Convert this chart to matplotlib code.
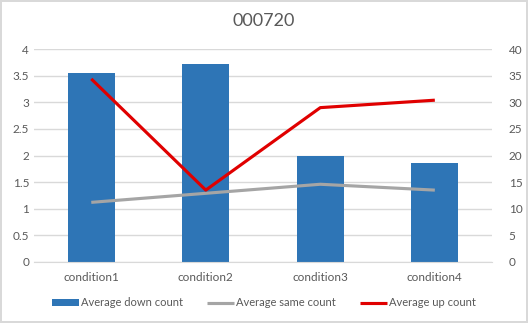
import matplotlib.pyplot as plt
import numpy as np

plt.rcParams['font.family'] = ['Lato', 'DejaVu Sans']

# data
categories = ['condition1', 'condition2', 'condition3', 'condition4']
down_count = [3.56, 3.72, 1.99, 1.86]
same_count = [11.2, 12.9, 14.6, 13.5]
up_count = [34.4, 13.5, 29.0, 30.4]
left_ticks = [0, 0.5, 1, 1.5, 2, 2.5, 3, 3.5, 4]
left_labels = ['0', '0.5', '1', '1.5', '2', '2.5', '3', '3.5', '4']
right_ticks = [0, 5, 10, 15, 20, 25, 30, 35, 40]

txt = '#595959'
fig = plt.figure(figsize=(5.28, 3.23), dpi=100)
fig.patch.set_edgecolor('#d9d9d9')
fig.patch.set_linewidth(1.5)
ax = fig.add_axes([0.0644, 0.189, 0.8676, 0.659])
x = np.arange(len(categories))

bars = ax.bar(x, down_count, width=0.41, color='#2e75b6', zorder=2,
              label='Average down count')
ax.set_ylim(0, 4)
ax.set_yticks(left_ticks)
ax.set_yticklabels(left_labels)
ax.set_xlim(-0.5, 3.5)
ax.set_xticks(x)
ax.set_xticklabels(categories)
ax.grid(axis='y', color='#d9d9d9', linewidth=1, zorder=0)
ax.set_axisbelow(True)
for s in ['top', 'right', 'left']:
    ax.spines[s].set_visible(False)
ax.spines['bottom'].set_color('#d9d9d9')
ax.tick_params(axis='both', length=0, colors=txt, labelsize=8.5)
ax.tick_params(axis='x', pad=7)

ax2 = ax.twinx()
l1, = ax2.plot(x, same_count, color='#a5a5a5', linewidth=2.25,
               label='Average same count', solid_capstyle='butt')
l2, = ax2.plot(x, up_count, color='#e00000', linewidth=2.25,
               label='Average up count', solid_capstyle='butt')
ax2.set_ylim(0, 40)
ax2.set_yticks(right_ticks)
for s in ax2.spines.values():
    s.set_visible(False)
ax2.tick_params(axis='y', length=0, colors=txt, labelsize=8.5, pad=12)

fig.text(0.5, 0.935, '000720', ha='center', va='center', fontsize=13, color=txt)

fig.legend(handles=[bars, l1, l2], loc='center', bbox_to_anchor=(0.5, 0.062),
           ncol=3, frameon=False, fontsize=8, labelcolor=txt,
           handlelength=2.4, handletextpad=0.2, columnspacing=2.2)

fig.savefig('out.png', dpi=100)
